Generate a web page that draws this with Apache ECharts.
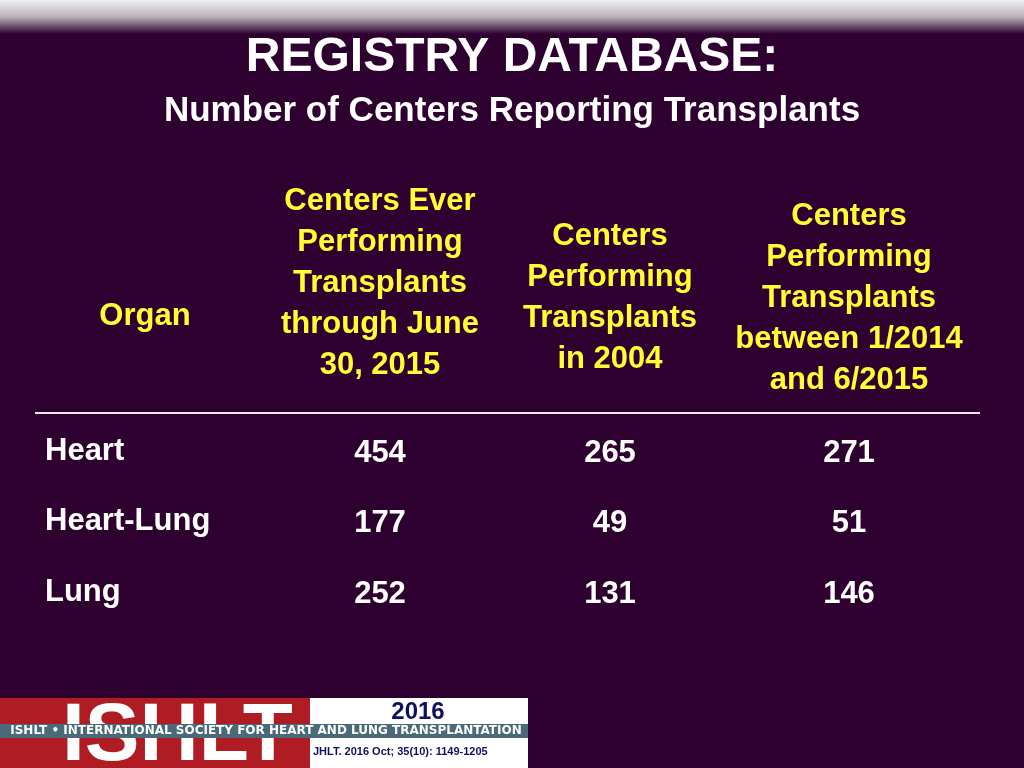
<!DOCTYPE html>
<html>
<head>
<meta charset="utf-8">
<script src="https://cdn.jsdelivr.net/npm/echarts@6/dist/echarts.min.js"></script>
<style>html,body{margin:0;padding:0;background:#2e0030;}#main{width:1024px;height:768px;}</style>
</head>
<body>
<div id="main"></div>
<script>
// table data
var organs = ['Heart', 'Heart-Lung', 'Lung'];
var headers = ['Organ',
  'Centers Ever\nPerforming\nTransplants\nthrough June\n30, 2015',
  'Centers\nPerforming\nTransplants\nin 2004',
  'Centers\nPerforming\nTransplants\nbetween 1/2014\nand 6/2015'];
var everCenters = [454, 177, 252];
var centers2004 = [265, 49, 131];
var centers2014 = [271, 51, 146];

// layout (pixel scale of the hidden axes)
var colX = [145, 380, 610, 849];
var headY = [316, 283, 298, 298];
var rowY = [453, 523, 594];

var font = '"Liberation Sans", Arial, sans-serif';

var headData = headers.map(function (h, i) { return { value: [colX[i], headY[i]], name: h }; });
var organData = organs.map(function (o, i) { return { value: [45, rowY[i] - 2], name: o }; });
var cellData = [];
[everCenters, centers2004, centers2014].forEach(function (arr, c) {
  arr.forEach(function (v, r) { cellData.push({ value: [colX[c + 1], rowY[r]], name: String(v) }); });
});

function textSeries(data, color, align) {
  return {
    type: 'scatter', data: data, symbolSize: 0, silent: true,
    itemStyle: { opacity: 1 },
    label: { show: true, position: 'inside', formatter: '{b}', color: color, align: align,
      fontFamily: font, fontWeight: 'bold', fontSize: 31, lineHeight: 41 }
  };
}

var chart = echarts.init(document.getElementById('main'));
chart.setOption({
  backgroundColor: '#2e0030',
  animation: false,
  grid: { left: 0, right: 0, top: 0, bottom: 0 },
  xAxis: { type: 'value', min: 0, max: 1024, show: false },
  yAxis: { type: 'value', min: 0, max: 768, inverse: true, show: false },
  title: [
    { text: 'REGISTRY DATABASE:', left: 'center', top: 29,
      textStyle: { color: '#fff', fontFamily: font, fontWeight: 'bold', fontSize: 48 } },
    { text: 'Number of Centers Reporting Transplants', left: 'center', top: 89,
      textStyle: { color: '#fff', fontFamily: font, fontWeight: 'bold', fontSize: 35 } }
  ],
  graphic: [
    { type: 'rect', shape: { x: 0, y: 0, width: 1024, height: 34 },
      style: { fill: new echarts.graphic.LinearGradient(0, 0, 0, 1, [
        { offset: 0, color: '#f0f0f0' }, { offset: 0.5, color: '#b8b0b8' }, { offset: 1, color: '#2e0030' }]) } },
    { type: 'line', shape: { x1: 35, y1: 413, x2: 980, y2: 413 }, style: { stroke: '#e8e8e8', lineWidth: 2 } },
    { type: 'rect', shape: { x: 0, y: 698, width: 310, height: 70 }, style: { fill: '#b01c24' } },
    { type: 'rect', shape: { x: 310, y: 698, width: 218, height: 70 }, style: { fill: '#ffffff' } },
    { type: 'text', style: { text: 'ISHLT', x: 62, y: 696, fill: '#ffffff', font: 'bold 82px ' + font } },
    { type: 'rect', shape: { x: 0, y: 724, width: 528, height: 14 }, style: { fill: '#4a6a7a' } },
    { type: 'text', style: { text: 'ISHLT • INTERNATIONAL SOCIETY FOR HEART AND LUNG TRANSPLANTATION',
      x: 266, y: 725, align: 'center', fill: '#ffffff', font: 'bold 12px "DejaVu Sans", sans-serif' } },
    { type: 'text', style: { text: '2016', x: 418, y: 700, align: 'center', fill: '#101060', font: 'bold 24px ' + font } },
    { type: 'text', style: { text: 'JHLT. 2016 Oct; 35(10): 1149-1205', x: 313, y: 746, fill: '#101060', font: 'bold 11px ' + font } }
  ],
  series: [
    textSeries(headData, '#ffff33', 'center'),
    textSeries(organData, '#ffffff', 'left'),
    textSeries(cellData, '#ffffff', 'center')
  ]
});
</script>
</body>
</html>
